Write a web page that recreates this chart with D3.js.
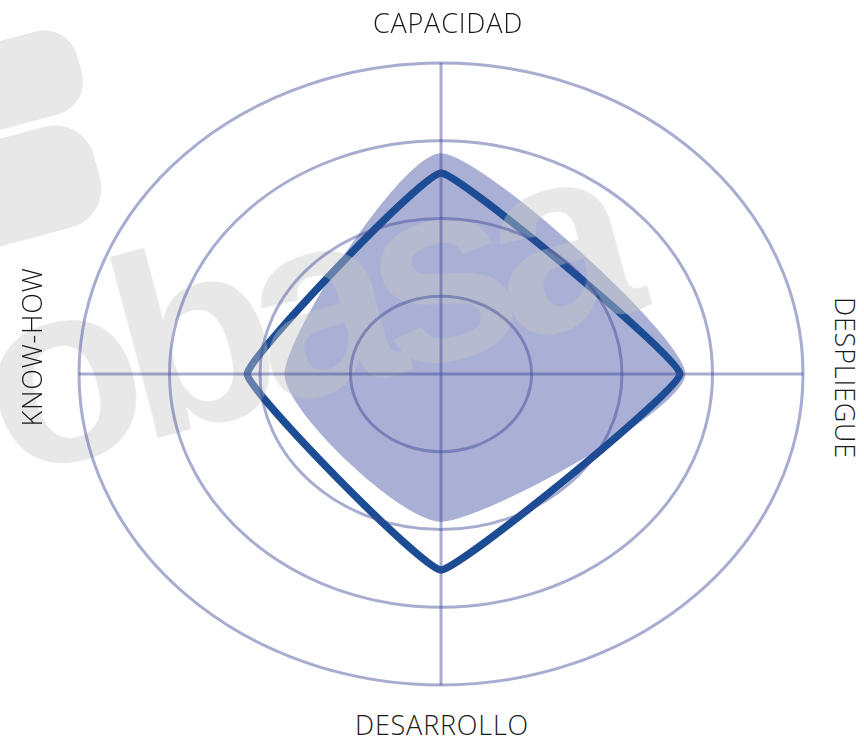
<!DOCTYPE html>
<html>
<head>
<meta charset="utf-8">
<script src="https://cdn.jsdelivr.net/npm/d3@7"></script>
<style>
  html, body { margin: 0; padding: 0; background: #fff; }
  svg { display: block; }
</style>
</head>
<body>
<div id="chart"></div>
<script>
// axes, clockwise from the top
const axes = ["CAPACIDAD", "DESPLIEGUE", "DESARROLLO", "KNOW-HOW"];
const rings = [1, 2, 3, 4];
// filled series (light) and outlined series (dark), in ring units
const areaValues = [2.84, 2.70, 1.90, 1.73];
const lineValues = [2.585, 2.64, 2.52, 2.14];

const width = 864, height = 743;
const cx = 441, cy = 374;

const rx = d3.scaleLinear().domain([0, 4]).range([0, 362]);
const ry = d3.scaleLinear().domain([0, 4]).range([0, 311]);
const angle = d3.scaleLinear().domain([0, axes.length]).range([0, 2 * Math.PI]);

const pt = (v, i) => [cx + rx(v) * Math.sin(angle(i)), cy - ry(v) * Math.cos(angle(i))];

const svg = d3.select("#chart")
    .append("svg")
    .attr("width", width)
    .attr("height", height);

// filled series
svg.append("path")
    .datum(areaValues.map(pt))
    .attr("d", d3.line().curve(d3.curveCardinalClosed.tension(0.4)))
    .style("fill", "#aab0d5");

// outlined series
svg.append("path")
    .datum(lineValues.map(pt))
    .attr("d", d3.line().curve(d3.curveCardinalClosed.tension(0.75)))
    .style("fill", "none")
    .style("stroke", "#1c4c94")
    .style("stroke-width", 7.5)
    .style("stroke-linejoin", "round");

// watermark (sits over the marks, under the grid)
const wm = svg.append("g")
    .style("fill", "#c8c8c8")
    .style("opacity", 0.42);

wm.append("rect")
    .attr("x", -80).attr("y", -42)
    .attr("width", 160).attr("height", 86)
    .attr("rx", 34)
    .attr("transform", "translate(2,84) rotate(-15)");
wm.append("rect")
    .attr("x", -90).attr("y", -52)
    .attr("width", 180).attr("height", 104)
    .attr("rx", 40)
    .attr("transform", "translate(10,190) rotate(-15)");

wm.append("text")
    .text("obasa")
    .attr("transform", "translate(8,478) rotate(-15)")
    .style("font-family", "'Liberation Sans', Arial, sans-serif")
    .style("font-weight", "bold")
    .style("font-size", "258px")
    .style("letter-spacing", "-20px");

// grid rings and axis lines
const grid = svg.append("g")
    .style("stroke", "rgb(60,70,150)")
    .style("stroke-opacity", 0.45)
    .style("stroke-width", 3)
    .style("fill", "none");

grid.selectAll("ellipse")
    .data(rings)
    .enter()
    .append("ellipse")
    .attr("cx", cx)
    .attr("cy", cy)
    .attr("rx", d => rx(d))
    .attr("ry", d => ry(d));

grid.append("line")
    .attr("x1", cx).attr("x2", cx)
    .attr("y1", cy - ry(4)).attr("y2", cy + ry(4));
grid.append("line")
    .attr("x1", cx - rx(4)).attr("x2", cx + rx(4))
    .attr("y1", cy).attr("y2", cy);

// axis labels
const labelStyle = sel => sel
    .style("font-family", "'Open Sans', 'Segoe UI', sans-serif")
    .style("font-weight", 300)
    .style("font-size", "27px")
    .style("letter-spacing", "0.8px")
    .style("fill", "#1a1a1a")
    .style("text-anchor", "middle");

svg.append("text").text(axes[0])
    .attr("x", 448).attr("y", 33)
    .call(labelStyle);
svg.append("text").text(axes[1])
    .attr("transform", "translate(835,378) rotate(90)")
    .call(labelStyle);
svg.append("text").text(axes[2])
    .attr("x", 442).attr("y", 735)
    .call(labelStyle);
svg.append("text").text(axes[3])
    .attr("transform", "translate(42,347) rotate(-90)")
    .call(labelStyle);
</script>
</body>
</html>
